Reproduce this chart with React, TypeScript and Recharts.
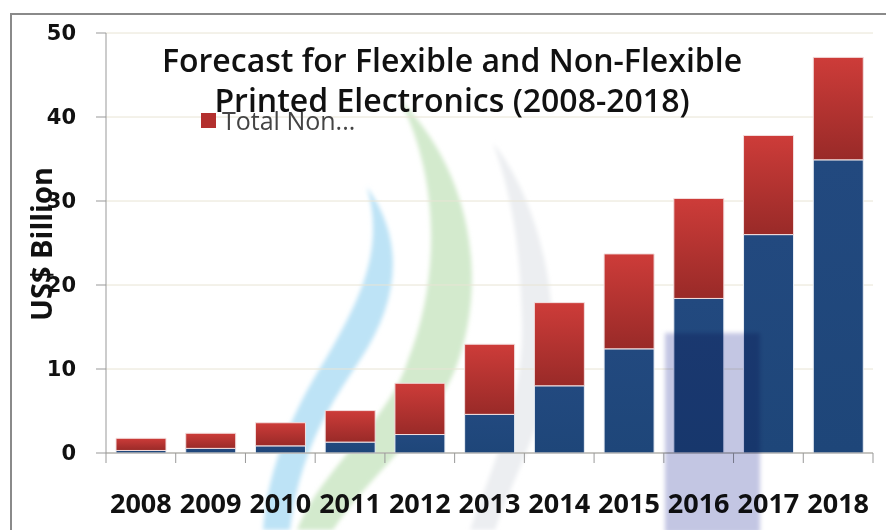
import { Bar, BarChart, CartesianGrid, XAxis, YAxis } from "recharts";

const years = ["2008", "2009", "2010", "2011", "2012", "2013", "2014", "2015", "2016", "2017", "2018"];
const flexible = [0.3, 0.55, 0.85, 1.3, 2.2, 4.6, 8.0, 12.4, 18.4, 26.0, 34.9];
const totals = [1.75, 2.35, 3.6, 5.05, 8.3, 12.95, 17.9, 23.7, 30.3, 37.8, 47.1];
const yTicks = [0, 10, 20, 30, 40, 50];

const data = years.map((year, i) => ({
  year,
  flexible: flexible[i],
  nonFlexible: +(totals[i] - flexible[i]).toFixed(2),
}));

const W = 886;
const H = 530;
const PLOT_LEFT = 106;
const PLOT_RIGHT = 873;
const BAND = (PLOT_RIGHT - PLOT_LEFT) / years.length;

function YearTick(props: any) {
  const { x, y, payload, index } = props;
  const left = x - BAND / 2;
  return (
    <g>
      <line x1={left} x2={left} y1={y} y2={y + 10} stroke="#999" />
      {index === years.length - 1 && (
        <line x1={x + BAND / 2} x2={x + BAND / 2} y1={y} y2={y + 10} stroke="#999" />
      )}
      <text
        x={x}
        y={y + 60}
        textAnchor="middle"
        fill="#111"
        style={{ fontFamily: "'Open Sans'", fontWeight: 700, fontSize: 27 }}
      >
        {payload.value}
      </text>
    </g>
  );
}

// faint logo swooshes behind the chart
function Watermark() {
  return (
    <svg width={W} height={H} style={{ position: "absolute", left: 0, top: 0 }}>
      <defs>
        <filter id="soft">
          <feGaussianBlur stdDeviation="2" />
        </filter>
      </defs>
      <g filter="url(#soft)">
        <path d="M 493 143 C 540 200, 575 330, 535 430 C 520 470, 505 500, 495 530 L 470 530 C 490 470, 525 400, 522 320 C 520 240, 510 190, 493 143 Z" fill="#eceef1" />
        <path d="M 400 100 C 470 170, 490 280, 455 370 C 430 430, 365 480, 333 530 L 297 530 C 320 470, 390 420, 408 360 C 440 280, 440 180, 400 100 Z" fill="#d3eacd" />
        <path d="M 367 187 C 405 240, 400 300, 360 360 C 330 405, 300 450, 290 530 L 263 530 C 268 460, 300 400, 325 360 C 360 300, 385 250, 367 187 Z" fill="#bde3f6" />
      </g>
    </svg>
  );
}

export default function App() {
  return (
    <div style={{ position: "absolute", left: 0, top: 0, width: W, height: H, background: "#fff", overflow: "hidden" }}>
      <Watermark />
      <div
        style={{
          position: "absolute",
          left: 10,
          top: 13,
          width: W,
          height: H,
          border: "2px solid #8a8a8a",
          boxSizing: "border-box",
        }}
      />
      <div style={{ position: "absolute", left: 0, top: 0 }}>
        <BarChart width={W} height={H} data={data} margin={{ top: 33, right: W - PLOT_RIGHT, bottom: 0, left: 0 }}>
          <defs>
            <linearGradient id="redGrad" x1="0" y1="0" x2="0" y2="1">
              <stop offset="0%" stopColor="#cd3c39" />
              <stop offset="100%" stopColor="#992a28" />
            </linearGradient>
            <linearGradient id="blueGrad" x1="0" y1="0" x2="0" y2="1">
              <stop offset="0%" stopColor="#22497f" />
              <stop offset="100%" stopColor="#1e4679" />
            </linearGradient>
          </defs>
          <CartesianGrid horizontal vertical={false} stroke="#e8e4d4" />
          <XAxis
            dataKey="year"
            axisLine={{ stroke: "#999" }}
            tickLine={false}
            tickSize={0}
            tickMargin={0}
            height={H - 453}
            interval={0}
            tick={<YearTick />}
          />
          <YAxis
            domain={[0, 50]}
            ticks={yTicks}
            width={PLOT_LEFT}
            axisLine={{ stroke: "#999" }}
            tickLine={{ stroke: "#999" }}
            tickSize={10}
            tickMargin={20}
            tick={{ fill: "#111", fontFamily: "'DejaVu Sans'", fontWeight: 700, fontSize: 21 }}
          />
          <Bar
            dataKey="flexible"
            name="Total Flexible"
            stackId="a"
            fill="url(#blueGrad)"
            stroke="#e9eef5"
            strokeWidth={1}
            barSize={50}
            isAnimationActive={false}
          />
          <Bar
            dataKey="nonFlexible"
            name="Total Non-Flexible"
            stackId="a"
            fill="url(#redGrad)"
            stroke="#f3dede"
            strokeWidth={1}
            barSize={50}
            isAnimationActive={false}
          />
        </BarChart>
      </div>
      {/* lavender block of the logo lies over the bars */}
      <div
        style={{
          position: "absolute",
          left: 665,
          top: 333,
          width: 95,
          height: 200,
          background: "#c3c6e3",
          mixBlendMode: "multiply",
          filter: "blur(2px)",
        }}
      />
      <div
        style={{
          position: "absolute",
          left: 201,
          top: 103,
          display: "flex",
          alignItems: "center",
          fontFamily: "'Open Sans'",
          fontSize: 25,
          color: "#444",
          whiteSpace: "nowrap",
        }}
      >
        <span style={{ display: "inline-block", width: 15, height: 15, background: "#b3302e", marginRight: 6 }} />
        Total Non...
      </div>
      <div
        style={{
          position: "absolute",
          left: 0,
          top: 40,
          width: 904,
          textAlign: "center",
          fontFamily: "'Open Sans'",
          fontWeight: 600,
          fontSize: 32,
          lineHeight: "40px",
          color: "#111",
          pointerEvents: "none",
        }}
      >
        Forecast for Flexible and Non-Flexible
        <br />
        Printed Electronics (2008-2018)
      </div>
      <div
        style={{
          position: "absolute",
          left: 40,
          top: 244,
          transform: "translate(-50%, -50%) rotate(-90deg)",
          fontFamily: "'Open Sans'",
          fontWeight: 700,
          fontSize: 29,
          color: "#111",
          whiteSpace: "nowrap",
        }}
      >
        US$ Billion
      </div>
    </div>
  );
}
